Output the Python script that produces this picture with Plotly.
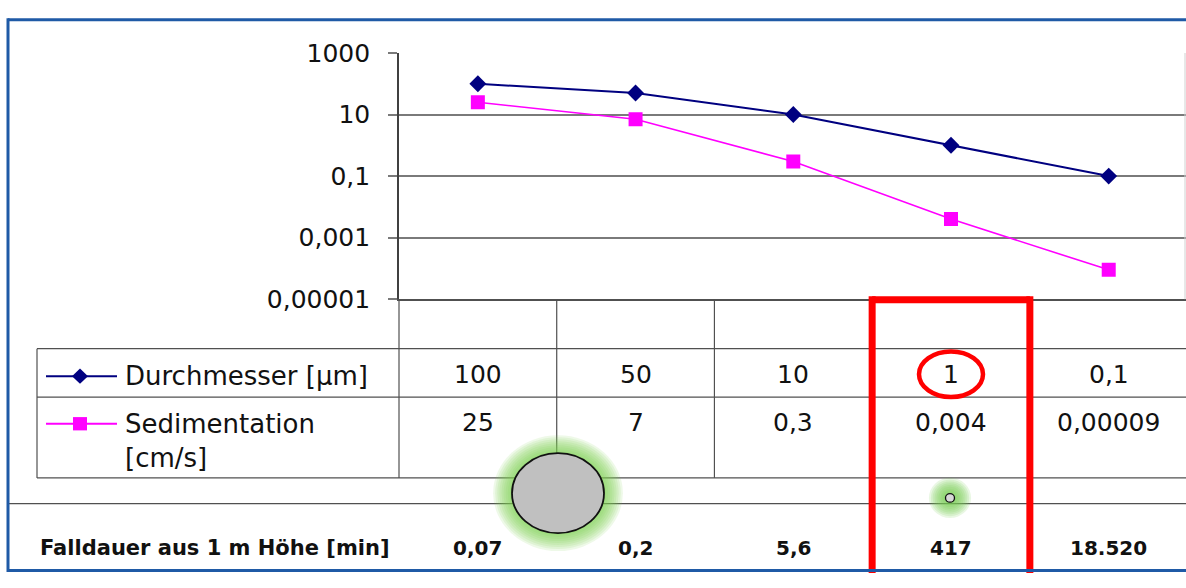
import plotly.graph_objects as go

# ---------------- data ----------------
categories = ["100", "50", "10", "1", "0,1"]
durchmesser = [100, 50, 10, 1, 0.1]
sedimentation = [25, 7, 0.3, 0.004, 0.00009]
durch_labels = ["100", "50", "10", "1", "0,1"]
sed_labels = ["25", "7", "0,3", "0,004", "0,00009"]
falldauer_labels = ["0,07", "0,2", "5,6", "417", "18.520"]
ytick_vals = [1000, 10, 0.1, 0.001, 0.00001]
ytick_text = ["1000", "10", "0,1", "0,001", "0,00001"]

W, H = 1186, 588
FONT = "DejaVu Sans"
NAVY = "#000080"
MAG = "#ff00ff"
LINEC = "#505050"


def X(p):
    return p / W


def Y(p):
    return 1 - p / H


def pline(x0, y0, x1, y1, color=LINEC, width=1.2):
    return dict(type="line", xref="paper", yref="paper", x0=X(x0), x1=X(x1),
                y0=Y(y0), y1=Y(y1), line=dict(color=color, width=width))


fig = go.Figure()
fig.add_trace(go.Scatter(x=categories, y=durchmesser, mode="lines+markers",
                         line=dict(color=NAVY, width=2),
                         marker=dict(symbol="diamond", size=13, color=NAVY),
                         name="Durchmesser [µm]", showlegend=False))
fig.add_trace(go.Scatter(x=categories, y=sedimentation, mode="lines+markers",
                         line=dict(color=MAG, width=1.6),
                         marker=dict(symbol="square", size=14, color=MAG),
                         name="Sedimentation [cm/s]", showlegend=False))

shapes = []
# table grid: vertical category lines
for b in [0.5, 1.5, 2.5, 3.5]:
    shapes.append(dict(type="line", xref="x", yref="paper", x0=b, x1=b,
                       y0=Y(300), y1=Y(488), line=dict(color=LINEC, width=1.2)))
shapes.append(pline(399, 300, 399, 488))
for yy in [352, 403, 488]:
    shapes.append(pline(37, yy, 1186, yy))
shapes.append(pline(37, 352, 37, 488))
shapes.append(pline(9, 515, 1186, 515))
shapes.append(pline(1185, 41, 1185, 300, color="#d0d0d0", width=1))

# legend keys
shapes.append(pline(46, 381, 117, 381, color=NAVY, width=2))
dx, dy = 8 / W, 8 / H
cx, cy = X(80), Y(381)
shapes.append(dict(type="path", xref="paper", yref="paper",
                   path=f"M {cx-dx} {cy} L {cx} {cy+dy} L {cx+dx} {cy} L {cx} {cy-dy} Z",
                   fillcolor=NAVY, line=dict(color=NAVY, width=0)))
shapes.append(pline(46, 431, 117, 431, color=MAG, width=2))
shapes.append(dict(type="rect", xref="paper", yref="paper", x0=X(73), x1=X(87),
                   y0=Y(438), y1=Y(424), fillcolor=MAG, line=dict(color=MAG, width=0)))


def ellipse(cxp, cyp, rx, ry, **kw):
    return dict(type="circle", xref="paper", yref="paper",
                x0=X(cxp - rx), x1=X(cxp + rx), y0=Y(cyp + ry), y1=Y(cyp - ry), **kw)


# big particle with green glow
for i in range(9, 0, -1):
    shapes.append(ellipse(558, 504, 46 + i * 2.1, 42 + i * 2.1,
                          fillcolor="rgba(120,205,80,0.13)", line=dict(width=0)))
shapes.append(ellipse(558, 504, 46, 42, fillcolor="#c0c0c0",
                      line=dict(color="#111111", width=1.8)))
# small particle with green glow
for i in range(9, 0, -1):
    shapes.append(ellipse(950, 509, 4 + i * 1.9, 4 + i * 1.9,
                          fillcolor="rgba(120,205,80,0.16)", line=dict(width=0)))
shapes.append(ellipse(950, 509, 4.5, 4.5, fillcolor="#d8d8d8",
                      line=dict(color="#111111", width=1.3)))

# red highlight box (open at bottom edge of picture) and ellipse
RED = "#ff0000"
for a in [2.5, 3.5]:
    shapes.append(dict(type="line", xref="x", yref="paper", x0=a, x1=a,
                       y0=0, y1=Y(297), line=dict(color=RED, width=7)))
shapes.append(dict(type="line", xref="x", yref="paper", x0=2.5, x1=3.5,
                   y0=Y(300.5), y1=Y(300.5), line=dict(color=RED, width=7)))
shapes.append(ellipse(951, 379, 32, 24, line=dict(color=RED, width=4.5)))

# blue outer frame (left, top, bottom; right side cut off)
BLUE = "#1f5aa6"
shapes.append(pline(8, 6, 1186, 6, color=BLUE, width=3))
shapes.append(pline(8, 585.5, 1186, 585.5, color=BLUE, width=3))
shapes.append(pline(8, 4.5, 8, 587, color=BLUE, width=3))

annotations = []
for i, c in enumerate(categories):
    annotations.append(dict(x=i, y=Y(379), xref="x", yref="paper", text=durch_labels[i],
                            showarrow=False, xanchor="center", yanchor="middle",
                            font=dict(family=FONT, size=25, color="#111")))
    annotations.append(dict(x=i, y=Y(430), xref="x", yref="paper", text=sed_labels[i],
                            showarrow=False, xanchor="center", yanchor="middle",
                            font=dict(family=FONT, size=25, color="#111")))
    annotations.append(dict(x=i, y=Y(562), xref="x", yref="paper",
                            text="<b>" + falldauer_labels[i] + "</b>",
                            showarrow=False, xanchor="center", yanchor="middle",
                            font=dict(family=FONT, size=20, color="#111")))

for txt, yy in [("Durchmesser [µm]", 381), ("Sedimentation", 431), ("[cm/s]", 467)]:
    annotations.append(dict(x=X(123), y=Y(yy), xref="paper", yref="paper", text=txt,
                            showarrow=False, xanchor="left", yanchor="middle",
                            font=dict(family=FONT, size=26, color="#111")))
annotations.append(dict(x=X(38), y=Y(562), xref="paper", yref="paper",
                        text="<b>Falldauer aus 1 m Höhe [min]</b>",
                        showarrow=False, xanchor="left", yanchor="middle",
                        font=dict(family=FONT, size=21, color="#111")))

fig.update_layout(
    width=W, height=H, margin=dict(l=0, r=0, t=0, b=0),
    paper_bgcolor="white", plot_bgcolor="white",
    separators=",.",
    xaxis=dict(domain=[X(399), 1], type="category", range=[-0.5, 4.49],
               showgrid=False, showticklabels=False, ticks="", zeroline=False,
               showline=True, linecolor=LINEC, linewidth=1.5),
    yaxis=dict(domain=[Y(300), Y(41)], type="log", range=[-5, 3],
               tickvals=ytick_vals, ticktext=ytick_text,
               showgrid=True, gridcolor="#7a7a7a", gridwidth=1.6,
               showline=True, linecolor="#404040", linewidth=1.6,
               ticks="outside", ticklen=9, tickcolor="#7a7a7a", tickwidth=1.6,
               ticklabelstandoff=13,
               tickfont=dict(family=FONT, size=25, color="#111"), zeroline=False),
    shapes=shapes, annotations=annotations, showlegend=False,
)

post = ("document.documentElement.style.margin='0';document.body.style.margin='0';"
        "document.body.style.padding='0';document.body.style.overflow='hidden';"
        "document.documentElement.style.overflow='hidden';"
        "var d=document.querySelector('.plotly-graph-div');"
        "d.style.position='fixed';d.style.top='0px';d.style.left='0px';")
fig.write_html("out.html", config={"displayModeBar": False}, post_script=post)
